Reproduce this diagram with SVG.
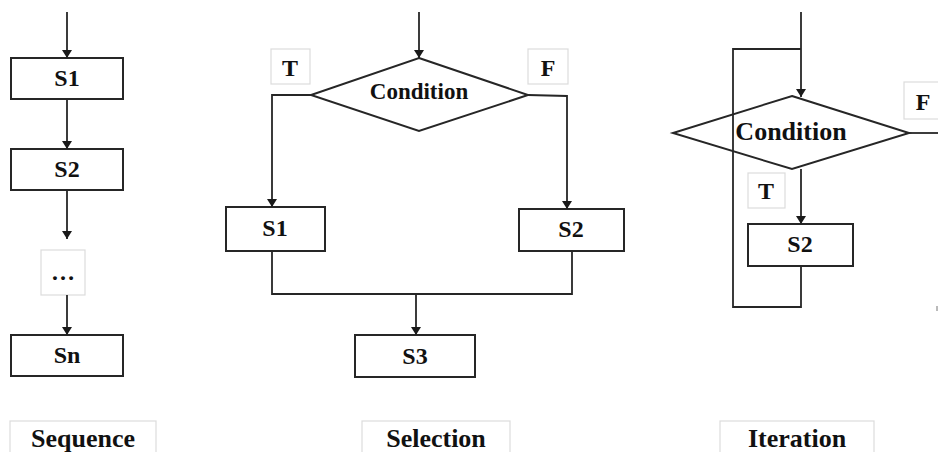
<svg xmlns="http://www.w3.org/2000/svg" width="938" height="452" viewBox="0 0 938 452">
  <defs>
    <marker id="arrow" markerWidth="10" markerHeight="10" refX="8" refY="5" orient="auto" markerUnits="userSpaceOnUse">
      <path d="M0,0 L8,5 L0,10 Z" fill="#1a1a1a"/>
    </marker>
    <style>
      .box { fill: #ffffff; stroke: #262626; stroke-width: 2; }
      .tag { fill: #ffffff; stroke: #dcdcdc; stroke-width: 1.2; }
      .line { fill: none; stroke: #262626; stroke-width: 1.8; }
      .arr { fill: none; stroke: #262626; stroke-width: 1.8; marker-end: url(#arrow); }
      text { font-family: "Liberation Serif", "Times New Roman", serif; font-weight: bold; fill: #111111; text-anchor: middle; }
      .t24 { font-size: 24px; }
      .t23 { font-size: 23px; }
      .t26 { font-size: 26px; }
    </style>
  </defs>

  <!-- Sequence -->
  <g id="seq-s1"><rect class="box" x="11" y="58" width="112" height="41"/><text class="t24" x="67" y="86">S1</text></g>
  <g id="seq-s2"><rect class="box" x="11" y="149" width="112" height="41"/><text class="t24" x="67" y="177">S2</text></g>
  <g id="seq-dots"><rect class="tag" x="41" y="250" width="44" height="45"/><text class="t24" x="63" y="280">…</text></g>
  <g id="seq-sn"><rect class="box" x="11" y="335" width="112" height="41"/><text class="t24" x="67" y="363">Sn</text></g>
  <g id="seq-label"><rect class="tag" x="10" y="421" width="146" height="40"/><text class="t26" x="83" y="447">Sequence</text></g>

  <!-- Selection -->
  <g id="sel-cond"><polygon class="box" points="419,58 528,95 419,131 311,95"/><text class="t23" x="419" y="99">Condition</text></g>
  <g id="sel-t"><rect class="tag" x="271" y="49" width="39" height="35"/><text class="t24" x="290" y="76">T</text></g>
  <g id="sel-f"><rect class="tag" x="528" y="49" width="40" height="35"/><text class="t24" x="548" y="76">F</text></g>
  <g id="sel-s1"><rect class="box" x="226" y="207" width="99" height="44"/><text class="t24" x="275" y="236">S1</text></g>
  <g id="sel-s2"><rect class="box" x="519" y="209" width="105" height="42"/><text class="t24" x="571" y="237">S2</text></g>
  <g id="sel-s3"><rect class="box" x="355" y="335" width="120" height="42"/><text class="t24" x="415" y="364">S3</text></g>
  <g id="sel-label"><rect class="tag" x="362" y="421" width="148" height="40"/><text class="t26" x="436" y="447">Selection</text></g>

  <!-- Iteration -->
  <g id="it-cond"><polygon class="box" points="792,96 909,133 792,169 673,133"/><text class="t26" x="791" y="140">Condition</text></g>
  <g id="it-f"><rect class="tag" x="904" y="82" width="40" height="37"/><text class="t24" x="923" y="110">F</text></g>
  <g id="it-t"><rect class="tag" x="748" y="173" width="37" height="35"/><text class="t24" x="766" y="199">T</text></g>
  <g id="it-s2"><rect class="box" x="748" y="224" width="105" height="42"/><text class="t24" x="800" y="252">S2</text></g>
  <g id="it-label"><rect class="tag" x="720" y="421" width="154" height="40"/><text class="t26" x="797" y="447">Iteration</text></g>

  <!-- Connectors -->
  <g id="connectors">
    <line class="arr" x1="67" y1="12" x2="67" y2="58"/>
    <line class="arr" x1="67" y1="99" x2="67" y2="149"/>
    <line class="arr" x1="67" y1="190" x2="67" y2="239"/>
    <line class="arr" x1="67" y1="295" x2="67" y2="335"/>

    <line class="arr" x1="419" y1="12" x2="419" y2="58"/>
    <polyline class="arr" points="311,95 272,95 272,207"/>
    <polyline class="arr" points="528,95 567,96 567,209"/>
    <polyline class="line" points="272,251 272,294 572,294 572,251"/>
    <line class="arr" x1="416" y1="294" x2="416" y2="335"/>

    <line class="arr" x1="801" y1="12" x2="801" y2="97"/>
    <polyline class="line" points="801,49 733,49 733,307 801,307 801,266"/>
    <line class="arr" x1="801" y1="169" x2="801" y2="224"/>
    <line class="line" x1="909" y1="133" x2="938" y2="133"/>
    <line x1="937" y1="306" x2="937" y2="311" stroke="#777777" stroke-width="1"/>
  </g>
</svg>
